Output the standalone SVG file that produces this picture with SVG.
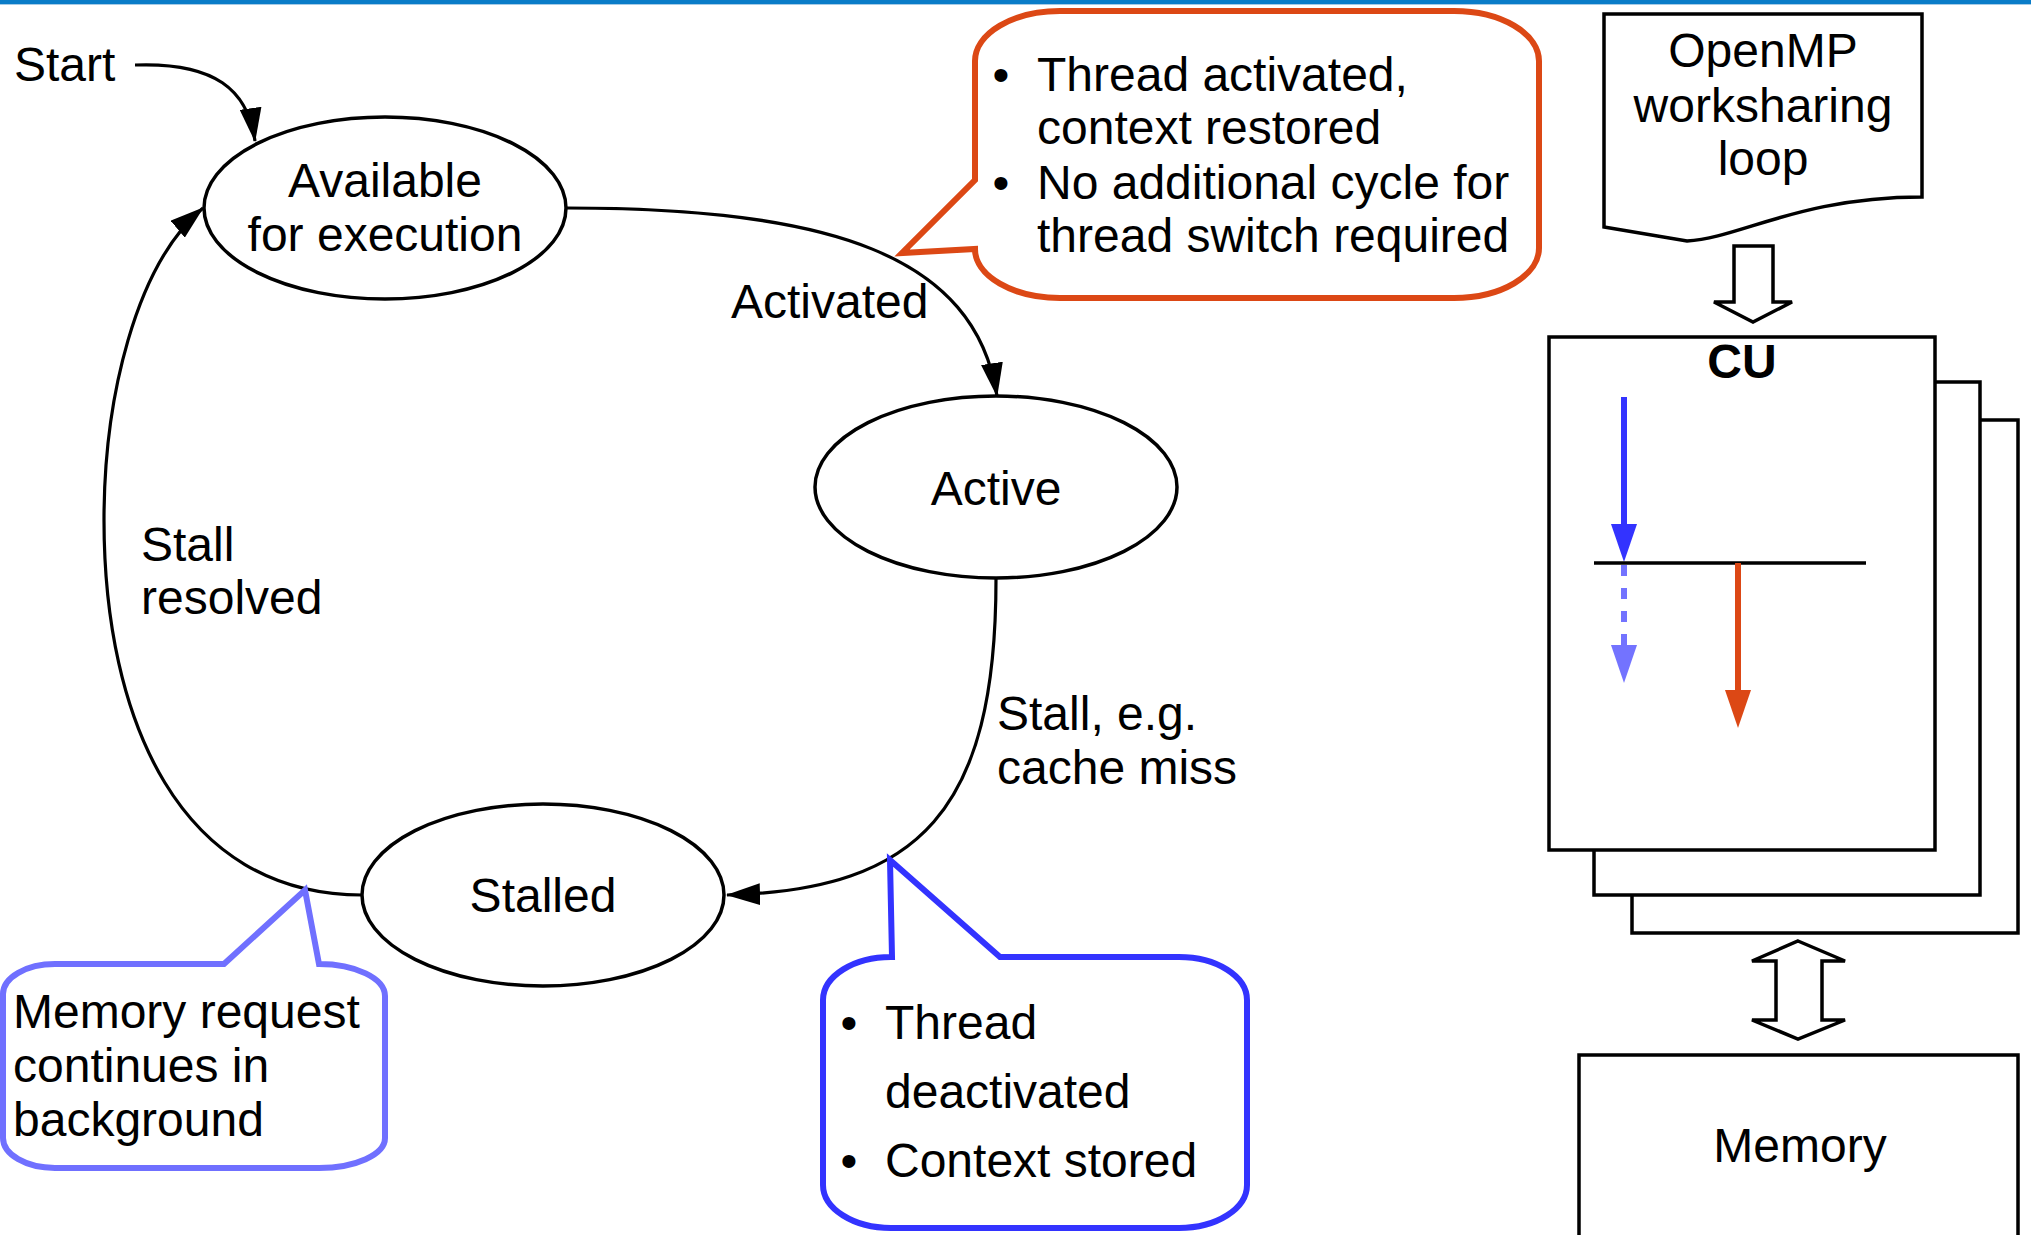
<svg xmlns="http://www.w3.org/2000/svg" width="2031" height="1235" viewBox="0 0 2031 1235">
<style>
text{font-family:"Liberation Sans",Arial,sans-serif;font-size:48px;fill:#000}
.c{text-anchor:middle}
.st{fill:#fff;stroke:#000;stroke-width:3.5}
.cn{fill:none;stroke:#000;stroke-width:3.2}
.box{fill:#fff;stroke:#000;stroke-width:3.5}
</style>
<defs>
<marker id="ah" markerUnits="userSpaceOnUse" markerWidth="34" markerHeight="22" refX="33" refY="11" orient="auto">
<path d="M0,0 L34,11 L0,22 z" fill="#000"/>
</marker>
</defs>
<rect width="2031" height="1235" fill="#fff"/>
<rect x="0" y="0" width="2031" height="4" fill="#0a7cc8"/>
<rect x="0" y="4" width="2031" height="1" fill="#a6cbe6"/>

<g id="connectors">
<path class="cn" d="M135,65 C215,62 248,90 255,141" marker-end="url(#ah)"/>
<path class="cn" d="M567,208 C830,208 975,255 997,396" marker-end="url(#ah)"/>
<path class="cn" d="M996,579 C996,810 920,890 727,895" marker-end="url(#ah)"/>
<path class="cn" d="M362,895 C180,895 104,720 104,520 C104,400 135,265 203,208" marker-end="url(#ah)"/>
<text x="14" y="81">Start</text>
<text x="731" y="318">Activated</text>
<text x="997" y="730">Stall, e.g.</text>
<text x="997" y="784">cache miss</text>
<text x="141" y="561">Stall</text>
<text x="141" y="614">resolved</text>
</g>

<g id="available">
<ellipse class="st" cx="385" cy="208" rx="181" ry="91"/>
<text class="c" x="385" y="197">Available</text>
<text class="c" x="385" y="251">for execution</text>
</g>

<g id="active">
<ellipse class="st" cx="996" cy="487" rx="181" ry="91"/>
<text class="c" x="996" y="505">Active</text>
</g>

<g id="stalled">
<ellipse class="st" cx="543" cy="895" rx="181" ry="91"/>
<text class="c" x="543" y="912">Stalled</text>
</g>

<g id="callout-activated">
<path d="M1060,11 L1454,11 A85,50 0 0 1 1539,61 L1539,248 A85,50 0 0 1 1454,298 L1060,298 A85,49 0 0 1 975,249 L902,253 L975,180 L975,61 A85,50 0 0 1 1060,11 Z" fill="#fff" stroke="#dc4815" stroke-width="6" stroke-linejoin="miter"/>
<text class="c" x="1001" y="91">•</text>
<text x="1037" y="91">Thread activated,</text>
<text x="1037" y="144">context restored</text>
<text class="c" x="1001" y="199">•</text>
<text x="1037" y="199">No additional cycle for</text>
<text x="1037" y="252">thread switch required</text>
</g>

<g id="callout-memory-request">
<path d="M55,964 L224,964 L305,890 L319,964 A66,32 0 0 1 385,996 L385,1138 A66,30 0 0 1 319,1168 L55,1168 A52,30 0 0 1 3,1138 L3,994 A52,30 0 0 1 55,964 Z" fill="#fff" stroke="#7070ff" stroke-width="6"/>
<text x="13" y="1028">Memory request</text>
<text x="13" y="1082">continues in</text>
<text x="13" y="1136">background</text>
</g>

<g id="callout-deactivated">
<path d="M892,957 L890,860 L1000,957 L1179,957 A68,43 0 0 1 1247,1000 L1247,1185 A68,43 0 0 1 1179,1228 L891,1228 A68,43 0 0 1 823,1185 L823,1000 A68,43 0 0 1 892,957 Z" fill="#fff" stroke="#3333ff" stroke-width="6"/>
<text class="c" x="849" y="1039">•</text>
<text x="885" y="1039">Thread</text>
<text x="885" y="1108">deactivated</text>
<text class="c" x="849" y="1177">•</text>
<text x="885" y="1177">Context stored</text>
</g>

<g id="openmp">
<path class="box" d="M1604,14 L1922,14 L1922,197 C1800,197 1740,238 1687,241 L1604,227 Z"/>
<text class="c" x="1763" y="67">OpenMP</text>
<text class="c" x="1763" y="122">worksharing</text>
<text class="c" x="1763" y="175">loop</text>
</g>

<g id="arrow-down">
<polygon points="1734,246 1773,246 1773,302 1792,302 1753,322 1714,302 1734,302" fill="#fff" stroke="#000" stroke-width="3.5"/>
</g>

<g id="cu">
<rect class="box" x="1632" y="420" width="386" height="513"/>
<rect class="box" x="1594" y="382" width="386" height="513"/>
<rect class="box" x="1549" y="337" width="386" height="513"/>
<text class="c" x="1742" y="378" style="font-weight:bold">CU</text>
<line x1="1624" y1="397" x2="1624" y2="528" stroke="#3333ff" stroke-width="6"/>
<polygon points="1611,524 1637,524 1624,562" fill="#3333ff"/>
<line x1="1594" y1="563" x2="1866" y2="563" stroke="#000" stroke-width="3.5"/>
<line x1="1624" y1="565" x2="1624" y2="646" stroke="#7373ff" stroke-width="6" stroke-dasharray="11,12"/>
<polygon points="1611,645 1637,645 1624,683" fill="#7373ff"/>
<line x1="1738" y1="563" x2="1738" y2="692" stroke="#dc4815" stroke-width="6"/>
<polygon points="1725,690 1751,690 1738,728" fill="#dc4815"/>
</g>

<g id="arrow-double">
<polygon points="1798,941 1845,961 1822,961 1822,1020 1845,1020 1798,1039 1752,1020 1776,1020 1776,961 1752,961" fill="#fff" stroke="#000" stroke-width="3.5"/>
</g>

<g id="memory">
<rect class="box" x="1579" y="1055" width="439" height="200"/>
<text class="c" x="1800" y="1162">Memory</text>
</g>
</svg>
